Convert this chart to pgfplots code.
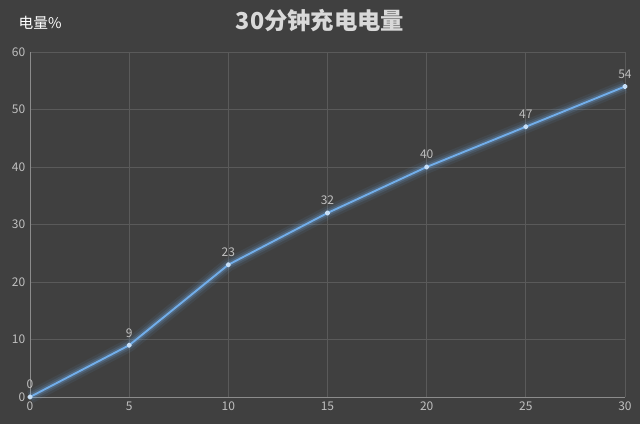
\documentclass[border=0pt]{standalone}
\usepackage{pgfplots}
\pgfplotsset{compat=1.18}
\usepackage{fontspec}
\setmainfont{Noto Sans CJK SC}
\definecolor{bg}{HTML}{404040}
\definecolor{gridc}{HTML}{5A5A5A}
\definecolor{axc}{HTML}{8C8C8C}
\definecolor{txt}{HTML}{BFBFBF}
\definecolor{ttl}{HTML}{D9D9D9}
\definecolor{ln}{HTML}{72AEEA}
\begin{document}
\begin{tikzpicture}
\useasboundingbox (-22.5pt,-20.25pt) rectangle (457.5pt,297.75pt);
\fill[bg] (-22.5pt,-20.25pt) rectangle (457.5pt,297.75pt);
\node[text=ttl,font=\bfseries\fontsize{17.5}{19}\selectfont] at (217.5pt,282pt) {30分钟充电电量};
\node[text=white,font=\fontsize{11}{13}\selectfont,anchor=west] at (-12pt,281pt) {电量\%};
\begin{axis}[
    at={(0,0)}, anchor=south west,
    scale only axis,
    width=446.25pt, height=258.75pt,
    xmin=0, xmax=30, ymin=0, ymax=60,
    xtick={0,5,...,30}, ytick={0,10,...,60},
    grid=major,
    major grid style={gridc, line width=0.6pt},
    axis line style={axc, line width=0.6pt},
    axis x line*=bottom, axis y line*=left,
    x axis line style={-}, y axis line style={-},
    tick style={draw=none},
    ticklabel style={text=txt, font=\fontsize{9}{10}\selectfont},
    /pgf/number format/assume math mode=true,
    clip=false,
    nodes near coords,
    nodes near coords style={text=txt, font=\fontsize{9}{10}\selectfont, anchor=south, yshift=2pt},
    ]
\addplot[ln, opacity=0.08, line width=10pt, line join=round, forget plot, nodes near coords=] coordinates {(0,0) (5,9) (10,23) (15,32) (20,40) (25,47) (30,54)};
\addplot[ln, opacity=0.13, line width=6.5pt, line join=round, forget plot, nodes near coords=] coordinates {(0,0) (5,9) (10,23) (15,32) (20,40) (25,47) (30,54)};
\addplot[ln, opacity=0.22, line width=3.8pt, line join=round, forget plot, nodes near coords=] coordinates {(0,0) (5,9) (10,23) (15,32) (20,40) (25,47) (30,54)};
\addplot[ln, line width=1.4pt, line join=round, mark=*, mark size=1.3pt, mark options={fill=ln!40!white, draw=ln!40!white}] coordinates {(0,0) (5,9) (10,23) (15,32) (20,40) (25,47) (30,54)};
\end{axis}
\end{tikzpicture}
\end{document}
